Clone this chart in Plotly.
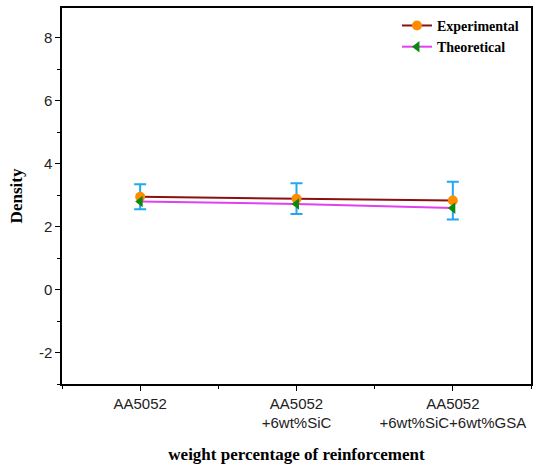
import plotly.graph_objects as go

categories = ["AA5052", "AA5052<br>+6wt%SiC", "AA5052<br>+6wt%SiC+6wt%GSA"]
x_idx = [0, 1, 2]
experimental = [2.95, 2.89, 2.83]
experimental_err = [0.40, 0.49, 0.60]
theoretical = [2.80, 2.72, 2.59]
y_ticks = [-2, 0, 2, 4, 6, 8]
y_ticktext = ["-2", "0", "2", "4", "6", "8"]

fig = go.Figure()
fig.add_trace(go.Scatter(
    x=x_idx, y=experimental, name="<b>Experimental</b>", mode="lines+markers",
    line=dict(color="#8B1010", width=2),
    marker=dict(symbol="circle", size=10, color="#FF8C00"),
    error_y=dict(type="data", array=experimental_err, color="#22A8F0", thickness=2, width=6),
))
fig.add_trace(go.Scatter(
    x=x_idx, y=theoretical, name="<b>Theoretical</b>", mode="lines+markers",
    line=dict(color="#E040F0", width=2),
    marker=dict(symbol="triangle-left", size=10, color="#0A8A0A"),
))

axis_common = dict(showline=True, linecolor="black", linewidth=1.5, mirror=True,
                   ticks="outside", ticklen=5, tickcolor="black", showgrid=False, zeroline=False,
                   tickfont=dict(family="Liberation Sans, Arial", size=15, color="#222"))

fig.update_xaxes(range=[-0.5, 2.5], tickvals=x_idx, ticktext=categories,
                 minor=dict(dtick=0.5, tick0=0.5, ticks="outside", ticklen=3, tickcolor="black"),
                 title=dict(text="<b>weight percentage of reinforcement</b>",
                            font=dict(family="Liberation Serif, Times New Roman", size=17, color="black"),
                            standoff=18),
                 **axis_common)
fig.update_yaxes(range=[-3, 8.95], tickvals=y_ticks, ticktext=y_ticktext,
                 minor=dict(dtick=1, tick0=1, ticks="outside", ticklen=3, tickcolor="black"),
                 title=dict(text="<b>Density</b>",
                            font=dict(family="Liberation Serif, Times New Roman", size=17, color="black"),
                            standoff=12),
                 **axis_common)

fig.update_layout(
    width=536, height=466,
    margin=dict(l=62, r=3, t=8, b=82),
    plot_bgcolor="white", paper_bgcolor="white",
    legend=dict(x=0.985, y=0.995, xanchor="right", yanchor="top",
                bgcolor="rgba(0,0,0,0)",
                font=dict(family="Liberation Serif, Times New Roman", size=14, color="black"),
                tracegroupgap=0, itemwidth=30),
)
fig.write_html("out.html")
